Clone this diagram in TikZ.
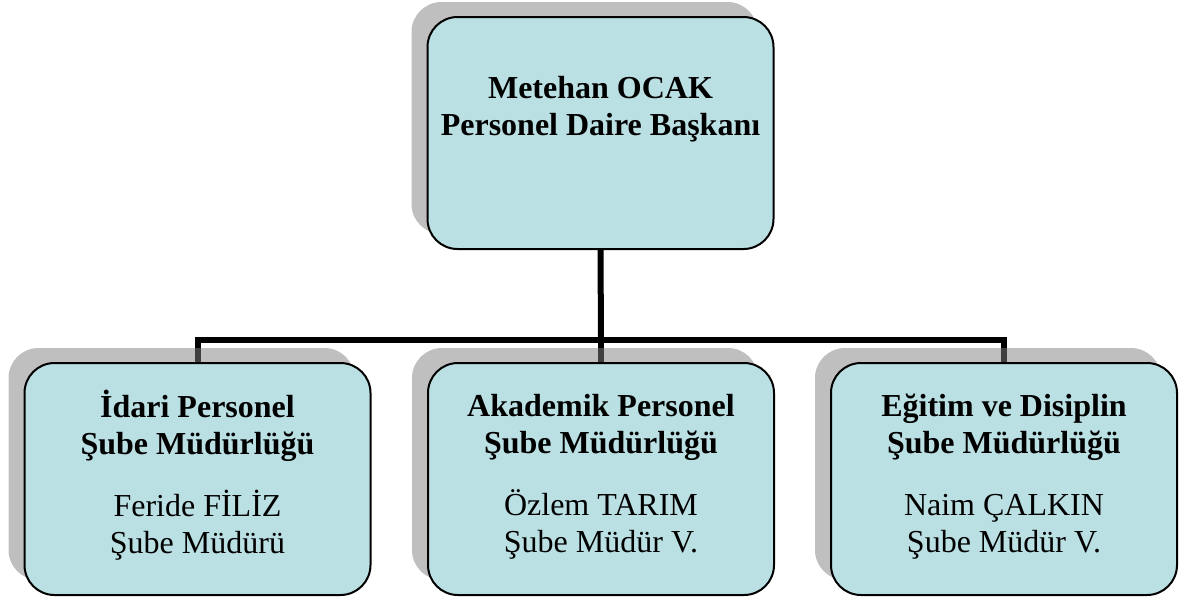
\documentclass[tikz,border=0pt]{standalone}
\usepackage{fontspec}
\setmainfont{Liberation Serif}
\usetikzlibrary{shadows,backgrounds}
\definecolor{boxfill}{RGB}{187,224,227}
\tikzset{
  orgbox/.style={draw=black, line width=2pt, fill=boxfill, rounded corners=30pt,
    minimum width=346pt, minimum height=232pt, inner sep=0pt,
    drop shadow={shadow xshift=-16pt, shadow yshift=15pt, opacity=0.5, fill=black!50}},
  boxtext/.style={align=center, inner sep=0pt, font=\fontsize{32}{37}\selectfont},
  conn/.style={line width=6pt, draw=black, line join=miter}
}
\begin{document}
\begin{tikzpicture}[x=1pt, y=-1pt]
\useasboundingbox (0,0) rectangle (1184,598);
\node[orgbox] (top) at (600.5,133) {};
\node[orgbox] (b1) at (197.5,479) {};
\node[orgbox] (b2) at (601,479) {};
\node[orgbox] (b3) at (1004,479) {};
\node[boxtext] (ttop) at ([yshift=24pt]top.center) {\textbf{Metehan OCAK}\\\textbf{Personel Daire Başkanı}};
\node[boxtext] (t1) at ([yshift=4pt]b1.center) {\rule{0pt}{26pt}\textbf{İdari Personel}\\\textbf{Şube Müdürlüğü}\\[25pt]Feride FİLİZ\\Şube Müdürü};
\node[boxtext] (t2) at ([yshift=4pt]b2.center) {\rule{0pt}{26pt}\textbf{Akademik Personel}\\\textbf{Şube Müdürlüğü}\\[25pt]Özlem TARIM\\Şube Müdür V.};
\node[boxtext] (t3) at ([yshift=4pt]b3.center) {\rule{0pt}{26pt}\textbf{Eğitim ve Disiplin}\\\textbf{Şube Müdürlüğü}\\[25pt]Naim ÇALKIN\\Şube Müdür V.};
\coordinate (j) at (601,340);
\begin{scope}[on background layer]
\draw[conn] (top.south) -- (j);
\draw[conn] (j) -- (b2.north);
\draw[conn] (b1.north) -- (b1.north |- j) -- (b3.north |- j) -- (b3.north);
\end{scope}
\end{tikzpicture}
\end{document}
